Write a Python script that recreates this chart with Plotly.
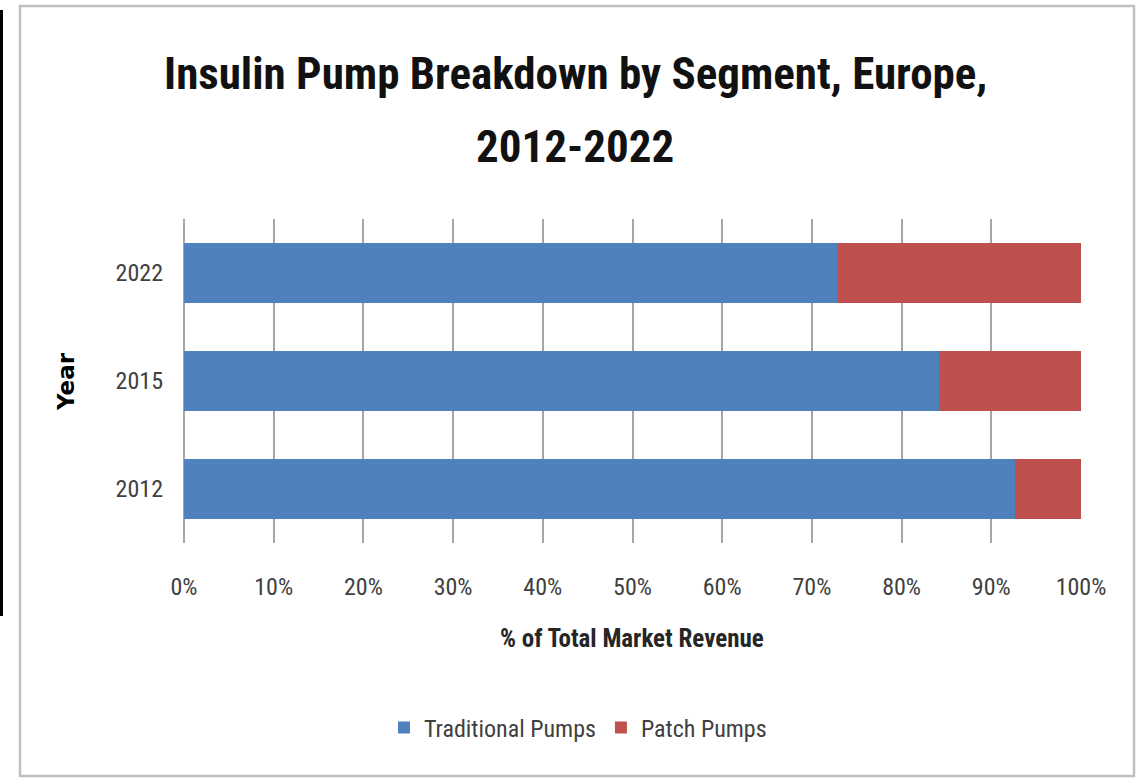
import plotly.graph_objects as go

years = ["2012", "2015", "2022"]
traditional = [92.6, 84.2, 72.9]
patch = [7.4, 15.8, 27.1]
x_ticks = [0, 10, 20, 30, 40, 50, 60, 70, 80, 90, 100]
x_tick_labels = [f"{t}%" for t in x_ticks]

FONT = "Roboto Condensed, Liberation Sans Narrow, Liberation Sans, Arial"

fig = go.Figure()
fig.add_trace(go.Bar(y=years, x=traditional, orientation="h", name="Traditional Pumps",
                     marker=dict(color="#4F81BD", line=dict(width=0))))
fig.add_trace(go.Bar(y=years, x=patch, orientation="h", name="Patch Pumps",
                     marker=dict(color="#C0504D", line=dict(width=0))))

L, R, T, B = 184, 1081, 219, 543
W, H = 1140, 778

def px(x):
    return (x - L) / (R - L)

def py(y):
    return (B - y) / (B - T)

fig.update_layout(
    width=W, height=H,
    barmode="stack", bargap=0.45,
    margin=dict(l=L, r=W - R, t=T, b=H - B, pad=0),
    paper_bgcolor="white", plot_bgcolor="white",
    font=dict(family=FONT, color="#404040", size=22),
    showlegend=True,
    legend=dict(orientation="h", x=px(578), xanchor="center", y=py(728), yanchor="middle",
                font=dict(size=24, color="#404040", family=FONT),
                itemwidth=30, traceorder="normal"),
    xaxis=dict(range=[0, 100], tickvals=x_ticks, ticktext=x_tick_labels,
               showgrid=True, gridcolor="#a6a6a6", gridwidth=1.5,
               zeroline=True, zerolinecolor="#a6a6a6", zerolinewidth=1.5,
               showline=False, ticks="", ticklabelstandoff=27,
               tickfont=dict(size=24, color="#404040"),
               fixedrange=True),
    yaxis=dict(showgrid=False, showline=False, ticks="", ticklabelstandoff=20,
               tickfont=dict(size=24, color="#404040"),
               categoryorder="array", categoryarray=years,
               fixedrange=True),
)

fig.add_annotation(text="<b>Insulin Pump Breakdown by Segment, Europe,</b>", xref="paper", yref="paper",
                   x=px(575), y=py(73), xanchor="center", yanchor="middle", showarrow=False,
                   font=dict(size=45, color="#111111", family=FONT))
fig.add_annotation(text="<b>2012-2022</b>", xref="paper", yref="paper",
                   x=px(575), y=py(147), xanchor="center", yanchor="middle", showarrow=False,
                   font=dict(size=45, color="#111111", family=FONT))
# x-axis title
fig.add_annotation(text="<b>% of Total Market Revenue</b>", xref="paper", yref="paper",
                   x=px(632), y=py(638), xanchor="center", yanchor="middle", showarrow=False,
                   font=dict(size=25, color="#262626", family=FONT))
# y-axis title
fig.add_annotation(text="<b>Year</b>", xref="paper", yref="paper", textangle=-90,
                   x=px(66), y=py(382), xanchor="center", yanchor="middle", showarrow=False,
                   font=dict(size=23, color="#000000", family="DejaVu Sans"))

# outer chart frame
fig.add_shape(type="rect", xref="paper", yref="paper",
              x0=px(20), x1=px(1134), y0=py(776), y1=py(6),
              line=dict(color="#bfbfbf", width=2.5), layer="below")
# black edge line at left
fig.add_shape(type="line", xref="paper", yref="paper",
              x0=px(1.5), x1=px(1.5), y0=py(616), y1=py(10),
              line=dict(color="#000000", width=3))

fig.write_html("out.html", config={"displayModeBar": False},
               post_script="document.body.style.margin='0px';")
